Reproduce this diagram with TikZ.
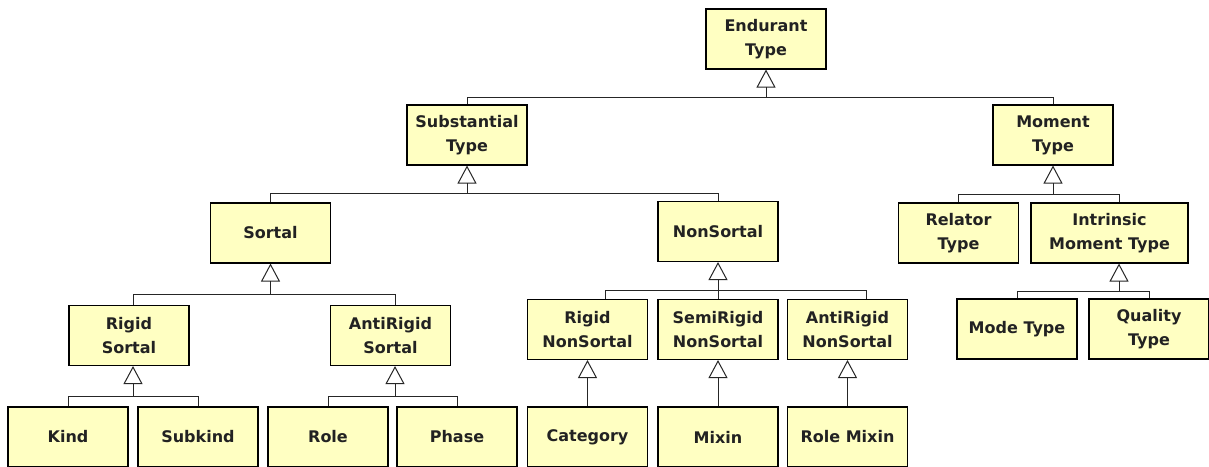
\documentclass[tikz,border=0pt]{standalone}
\usepackage{fontspec}
\setsansfont{DejaVu Sans}
\usetikzlibrary{arrows.meta,calc}
\definecolor{boxfill}{RGB}{255,255,194}
\definecolor{txt}{RGB}{34,34,34}
\begin{document}
\begin{tikzpicture}[x=1pt,y=-1pt,
  cls/.style={draw=black,line width=1.1pt,fill=boxfill,rectangle,minimum width=120pt,minimum height=60pt,
    inner sep=0pt,align=center,text=txt,font=\sffamily\bfseries\fontsize{16}{24}\selectfont},
  conn/.style={draw=black!85,line width=1pt},
  gen/.style={conn,-{Triangle[open,length=18pt,width=19pt,line width=1pt]},shorten >=0pt}]
\useasboundingbox (0,0) rectangle (1209,466);
\clip (0,0) rectangle (1209,466);
\fill[white] (0,0) rectangle (1209,466);
% boxes
\node[cls] (end) at (766,39) {Endurant\\Type};
\node[cls] (sub) at (467,135) {Substantial\\Type};
\node[cls] (mom) at (1053,135) {Moment\\Type};
\node[cls] (sor) at (270.5,233) {Sortal};
\node[cls] (nsor) at (718,231.5) {NonSortal};
\node[cls] (rel) at (958.5,233) {Relator\\Type};
\node[cls,minimum width=157pt] (intr) at (1109.5,233) {Intrinsic\\Moment Type};
\node[cls] (rs) at (129,335.5) {Rigid\\Sortal};
\node[cls] (ars) at (390.5,335.5) {AntiRigid\\Sortal};
\node[cls] (rns) at (587.5,329.5) {Rigid\\NonSortal};
\node[cls] (srns) at (718,329.5) {SemiRigid\\NonSortal};
\node[cls] (arns) at (847.5,329.5) {AntiRigid\\NonSortal};
\node[cls] (mode) at (1017,329) {Mode Type};
\node[cls] (qual) at (1149,329) {Quality\\Type};
\node[cls] (kind) at (68,437) {Kind};
\node[cls] (subk) at (198,437) {Subkind};
\node[cls] (role) at (328,437) {Role};
\node[cls] (phase) at (457,437) {Phase};
\node[cls] (cat) at (587.5,437) {Category};
\node[cls] (mix) at (718,437) {Mixin};
\node[cls] (rmix) at (847.5,437) {Role Mixin};
% junctions
\coordinate (jE) at (766,97);
\coordinate (jS) at (467,193);
\coordinate (jM) at (1053,194);
\coordinate (jSo) at (270.5,294);
\coordinate (jNS) at (718,290);
\coordinate (jI) at (1119,291);
\coordinate (jRS) at (133,396);
\coordinate (jAS) at (395,396);
% connectors
\draw[conn] (sub.north) |- (jE);
\draw[conn] (mom.north) |- (jE);
\draw[gen] (jE) -- (end.south);
\draw[conn] (sor.north) |- (jS);
\draw[conn] (nsor.north) |- (jS);
\draw[gen] (jS) -- (sub.south);
\draw[conn] (rel.north) |- (jM);
\draw[conn] (jI |- intr.north) |- (jM);
\draw[gen] (jM) -- (mom.south);
\draw[conn] ($(rs.north)+(4,0)$) |- (jSo);
\draw[conn] ($(ars.north)+(4.5,0)$) |- (jSo);
\draw[gen] (jSo) -- (sor.south);
\draw[conn] ($(rns.north)+(17.5,0)$) |- (jNS);
\draw[conn] (srns.north) -- (jNS);
\draw[conn] ($(arns.north)+(18.5,0)$) |- (jNS);
\draw[gen] (jNS) -- (nsor.south);
\draw[conn] (mode.north) |- (jI);
\draw[conn] (qual.north) |- (jI);
\draw[gen] (jI) -- (jI |- intr.south);
\draw[conn] (kind.north) |- (jRS);
\draw[conn] (subk.north) |- (jRS);
\draw[gen] (jRS) -- (jRS |- rs.south);
\draw[conn] (role.north) |- (jAS);
\draw[conn] (phase.north) |- (jAS);
\draw[gen] (jAS) -- (jAS |- ars.south);
\draw[gen] (cat.north) -- (rns.south);
\draw[gen] (mix.north) -- (srns.south);
\draw[gen] (rmix.north) -- (arns.south);
\end{tikzpicture}
\end{document}
